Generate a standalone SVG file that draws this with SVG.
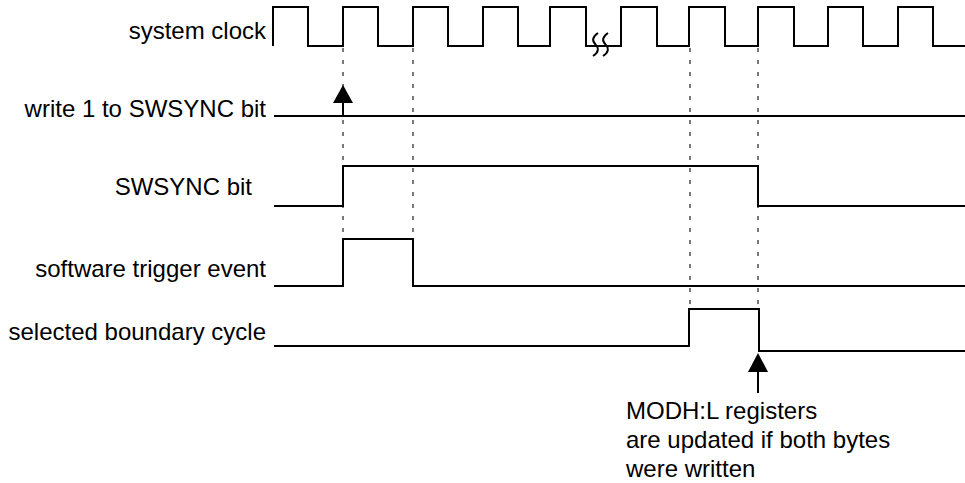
<svg xmlns="http://www.w3.org/2000/svg" width="965" height="483" viewBox="0 0 965 483">
<style>
.lbl{font-family:"Liberation Sans",Arial,Helvetica,sans-serif;font-size:24px;fill:#000}
.r{text-anchor:end}
.sig{fill:none;stroke:#000;stroke-width:2}
.dash{fill:none;stroke:#222;stroke-width:1.2;stroke-dasharray:4 8}
</style>
<rect width="965" height="483" fill="#fff"/>
<g id="guides">
<line class="dash" x1="343" y1="48" x2="343" y2="238"/>
<line class="dash" x1="413" y1="48" x2="413" y2="238"/>
<line class="dash" x1="690" y1="48" x2="690" y2="308"/>
<line class="dash" x1="758" y1="48" x2="758" y2="308"/>
</g>
<g id="clock">
<text class="lbl r" x="266" y="39">system clock</text>
<path class="sig" d="M273,46 V7 H308 V46 H343 V7 H378 V46 H413 V7 H448 V46 H483 V7 H518 V46 H550 V7 H586 V46 H621 V7 H657 V46 H689 V7 H725 V46 H758 V7 H794 V46 H828 V7 H863 V46 H898 V7 H933 V46 H965"/>
<path class="sig" d="M598,33 C592,37 592,41 595.5,44.5 C599,48 599,52 593,56"/>
<path class="sig" d="M608,33 C602,37 602,41 605.5,44.5 C609,48 609,52 603,56"/>
</g>
<g id="write1">
<text class="lbl r" x="266" y="117">write 1 to SWSYNC bit</text>
<path class="sig" d="M274,116 H965"/>
</g>
<g id="swsync">
<text class="lbl r" x="252" y="195">SWSYNC bit</text>
<path class="sig" d="M274,206 H343 V166 H758 V206 H965"/>
</g>
<g id="trigger">
<text class="lbl r" x="266" y="277">software trigger event</text>
<path class="sig" d="M274,286 H343 V239 H413 V286 H965"/>
</g>
<g id="boundary">
<text class="lbl r" x="266" y="340">selected boundary cycle</text>
<path class="sig" d="M274,346 H689 V309 H759 V351 H965"/>
</g>
<g id="connectors">
<line class="sig" x1="343" y1="116" x2="343" y2="101"/>
<polygon points="343,85 353,103 333,103" fill="#000"/>
<line class="sig" x1="758" y1="393" x2="758" y2="370"/>
<polygon points="758,353 768,372 748,372" fill="#000"/>
</g>
<g id="note">
<text class="lbl" x="626" y="419">MODH:L registers</text>
<text class="lbl" x="626" y="448">are updated if both bytes</text>
<text class="lbl" x="626" y="477">were written</text>
</g>
</svg>
